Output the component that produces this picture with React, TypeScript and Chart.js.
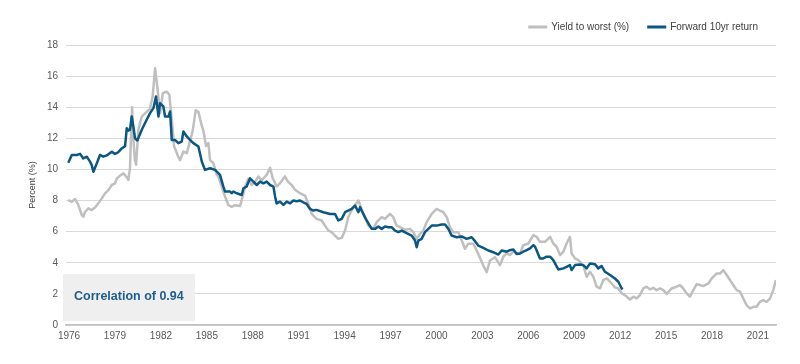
import React, { useEffect, useRef } from 'react';
import { Chart, registerables } from 'chart.js';

Chart.register(...registerables);

const FONT = '"Liberation Sans", Arial, sans-serif';

const seriesLabels = ['Yield to worst (%)', 'Forward 10yr return'];
const correlationText = 'Correlation of 0.94';
const yAxisTitle = 'Percent (%)';
const xTickYears = [1976, 1979, 1982, 1985, 1988, 1991, 1994, 1997, 2000, 2003, 2006, 2009, 2012, 2015, 2018, 2021];

const yieldYears = [
  1975.95, 1976.18, 1976.39, 1976.61, 1976.83, 1976.93, 1977.05, 1977.26, 1977.48, 1977.7, 1977.91,
  1978.14, 1978.35, 1978.57, 1978.79, 1979.0, 1979.12, 1979.33, 1979.55, 1979.77, 1979.87, 1979.98,
  1980.05, 1980.12, 1980.2, 1980.3, 1980.38, 1980.53, 1980.75, 1981.07, 1981.29, 1981.46, 1981.62,
  1981.79, 1981.94, 1982.12, 1982.38, 1982.55, 1982.71, 1982.86, 1983.14, 1983.25, 1983.47, 1983.69,
  1983.9, 1984.08, 1984.27, 1984.45, 1984.62, 1984.77, 1984.95, 1985.1, 1985.21, 1985.43, 1985.65,
  1985.75, 1985.97, 1986.19, 1986.41, 1986.62, 1986.84, 1987.17, 1987.34, 1987.5, 1987.71, 1987.93,
  1988.15, 1988.37, 1988.58, 1988.91, 1989.13, 1989.3, 1989.56, 1989.77, 1990.1, 1990.31, 1990.54,
  1990.76, 1991.04, 1991.41, 1991.63, 1991.85, 1992.17, 1992.5, 1992.72, 1992.94, 1993.15, 1993.37,
  1993.59, 1993.81, 1994.03, 1994.24, 1994.46, 1994.68, 1994.9, 1995.11, 1995.33, 1995.55, 1995.88,
  1996.09, 1996.42, 1996.64, 1996.96, 1997.18, 1997.4, 1997.62, 1997.94, 1998.27, 1998.49, 1998.71,
  1998.92, 1999.14, 1999.36, 1999.69, 2000.01, 2000.23, 2000.45, 2000.67, 2000.88, 2001.1, 2001.43,
  2001.65, 2001.86, 2002.08, 2002.41, 2002.73, 2003.06, 2003.28, 2003.5, 2003.82, 2004.15, 2004.37,
  2004.59, 2004.8, 2005.02, 2005.24, 2005.46, 2005.67, 2006.0, 2006.33, 2006.54, 2006.76, 2007.09,
  2007.42, 2007.63, 2007.85, 2008.07, 2008.29, 2008.5, 2008.72, 2008.83, 2009.05, 2009.27, 2009.59,
  2009.81, 2010.03, 2010.25, 2010.46, 2010.68, 2010.9, 2011.12, 2011.44, 2011.66, 2011.88, 2012.1,
  2012.31, 2012.64, 2012.86, 2013.08, 2013.29, 2013.51, 2013.73, 2013.95, 2014.17, 2014.38, 2014.6,
  2014.82, 2015.04, 2015.36, 2015.69, 2015.91, 2016.12, 2016.34, 2016.56, 2016.78, 2017.0, 2017.21,
  2017.43, 2017.76, 2017.98, 2018.3, 2018.52, 2018.74, 2018.96, 2019.17, 2019.39, 2019.61, 2019.83,
  2020.04, 2020.26, 2020.48, 2020.7, 2020.91, 2021.13, 2021.35, 2021.57, 2021.79, 2022.0, 2022.18,
];
const yieldValues = [
  8.03, 7.92, 8.1, 7.71, 7.07, 6.96, 7.28, 7.5, 7.39, 7.55, 7.82,
  8.14, 8.46, 8.67, 9.0, 9.1, 9.42, 9.6, 9.75, 9.5, 9.32, 10.07,
  12.3, 14.0, 12.0, 10.6, 10.3, 12.6, 13.4, 13.7, 13.9, 14.7, 16.5,
  15.1, 13.6, 14.9, 15.0, 14.8, 13.2, 11.5, 10.8, 10.6, 11.15, 11.05,
  11.8, 12.5, 13.8, 13.7, 13.0, 12.5, 11.5, 11.7, 10.6, 10.4, 9.65,
  9.55, 8.9, 8.25, 7.7, 7.6, 7.7, 7.65, 8.25, 8.9, 9.4, 9.0,
  9.2, 9.55, 9.3, 9.65, 10.1, 9.45, 8.9, 9.1, 9.55, 9.2, 9.0,
  8.7, 8.5, 8.32, 7.79, 7.14, 6.82, 6.72, 6.39, 6.07, 5.97, 5.75,
  5.54, 5.6, 6.07, 6.93, 7.36, 7.68, 8.0, 7.46, 6.93, 6.39, 6.18,
  6.61, 6.93, 6.82, 7.14, 6.93, 6.39, 6.29, 6.12, 6.18, 5.97, 5.54,
  5.86, 6.07, 6.61, 7.14, 7.46, 7.36, 7.25, 6.93, 6.29, 5.97, 5.97,
  5.43, 4.9, 5.22, 5.22, 4.57, 3.82, 3.4, 4.15, 4.36, 3.85, 4.39,
  4.6, 4.49, 4.71, 4.6, 4.6, 5.13, 5.24, 5.78, 5.67, 5.35, 5.35,
  5.67, 5.24, 5.03, 4.49, 4.71, 5.24, 5.67, 4.6, 4.28, 4.17, 3.85,
  3.1, 3.42, 3.1, 2.46, 2.35, 2.89, 2.99, 2.67, 2.42, 2.35, 2.03,
  1.92, 1.64, 1.82, 1.71, 1.92, 2.35, 2.46, 2.29, 2.39, 2.24, 2.35,
  2.24, 1.99, 2.35, 2.46, 2.57, 2.35, 2.03, 1.82, 2.24, 2.63, 2.57,
  2.5, 2.67, 2.99, 3.31, 3.31, 3.53, 3.21, 2.89, 2.57, 2.24, 2.14,
  1.71, 1.28, 1.07, 1.17, 1.17, 1.49, 1.6, 1.49, 1.71, 2.24, 2.89,
];

const fwdYears = [
  1975.95, 1976.18, 1976.5, 1976.72, 1976.93, 1977.16, 1977.37, 1977.48, 1977.59, 1977.81, 1978.02,
  1978.24, 1978.46, 1978.79, 1979.0, 1979.2, 1979.44, 1979.66, 1979.77, 1979.87, 1979.98, 1980.09,
  1980.2, 1980.31, 1980.46, 1980.75, 1981.07, 1981.29, 1981.51, 1981.68, 1981.84, 1981.94, 1982.16,
  1982.27, 1982.49, 1982.6, 1982.71, 1982.92, 1983.14, 1983.36, 1983.47, 1983.69, 1983.9, 1984.12,
  1984.45, 1984.67, 1984.88, 1985.21, 1985.54, 1985.86, 1986.08, 1986.19, 1986.52, 1986.62, 1986.73,
  1986.95, 1987.28, 1987.39, 1987.6, 1987.82, 1988.04, 1988.26, 1988.48, 1988.69, 1988.91, 1989.13,
  1989.35, 1989.46, 1989.56, 1989.78, 1990.0, 1990.22, 1990.44, 1990.65, 1990.87, 1991.09, 1991.3,
  1991.52, 1991.74, 1991.96, 1992.17, 1992.61, 1993.05, 1993.37, 1993.59, 1993.81, 1994.03, 1994.24,
  1994.46, 1994.68, 1994.9, 1995.01, 1995.22, 1995.44, 1995.77, 1995.99, 1996.2, 1996.42, 1996.64,
  1996.86, 1997.07, 1997.29, 1997.51, 1997.73, 1998.05, 1998.38, 1998.6, 1998.71, 1998.82, 1999.03,
  1999.25, 1999.47, 1999.69, 2000.01, 2000.34, 2000.56, 2000.78, 2000.99, 2001.32, 2001.65, 2001.97,
  2002.3, 2002.52, 2002.73, 2003.06, 2003.39, 2003.71, 2004.04, 2004.26, 2004.59, 2004.8, 2005.02,
  2005.24, 2005.46, 2005.67, 2005.89, 2006.11, 2006.33, 2006.44, 2006.54, 2006.76, 2006.98, 2007.2,
  2007.42, 2007.63, 2007.96, 2008.29, 2008.5, 2008.72, 2008.83, 2009.05, 2009.38, 2009.59, 2009.81,
  2010.03, 2010.36, 2010.57, 2010.79, 2011.01, 2011.34, 2011.66, 2011.88, 2012.1, 2012.16,
];
const fwdValues = [
  10.43, 10.93, 10.93, 11.0, 10.71, 10.82, 10.5, 10.28, 9.85, 10.39, 10.93,
  10.82, 10.9, 11.14, 11.0, 11.1, 11.35, 11.5, 12.65, 12.5, 12.55, 13.4,
  12.76, 12.0, 11.86, 12.55, 13.19, 13.62, 13.94, 14.69, 13.4, 14.26, 14.05,
  13.4, 13.4, 13.73, 11.9, 11.9, 11.69, 11.79, 12.44, 12.12, 11.9, 11.69,
  11.47, 10.51, 9.97, 10.08, 9.97, 9.65, 8.9, 8.58, 8.58, 8.47, 8.58,
  8.47, 8.36, 8.79, 8.9, 9.43, 9.22, 9.0, 9.22, 9.11, 9.22, 9.0,
  8.9, 8.25, 7.82, 7.93, 7.72, 7.93, 7.82, 8.0, 7.96, 8.0, 7.89,
  7.79, 7.46, 7.36, 7.4, 7.25, 7.14, 7.14, 6.72, 6.82, 7.25, 7.36,
  7.46, 7.68, 7.25, 7.57, 7.14, 6.72, 6.18, 6.18, 6.33, 6.18, 6.33,
  6.29, 6.29, 6.07, 5.97, 6.07, 5.9, 5.75, 5.43, 5.0, 5.43, 5.54,
  5.97, 6.18, 6.39, 6.39, 6.46, 6.46, 6.18, 5.75, 5.64, 5.69, 5.54,
  5.64, 5.39, 5.11, 4.96, 4.79, 4.68, 4.53, 4.79, 4.71, 4.81, 4.86,
  4.56, 4.6, 4.71, 4.81, 4.92, 5.13, 5.03, 4.81, 4.28, 4.28, 4.39,
  4.39, 4.17, 3.57, 3.64, 3.74, 3.85, 3.53, 3.85, 3.89, 3.85, 3.64,
  3.96, 3.91, 3.64, 3.79, 3.42, 3.21, 2.99, 2.78, 2.35, 2.29,
];

const GRAY = '#bfbfbf';
const BLUE = '#0a5783';

const legendPlugin = {
  id: 'customLegend',
  afterDraw(chart: any) {
    const ctx = chart.ctx;
    ctx.save();
    ctx.font = `10px ${FONT}`;
    const items = chart.data.datasets.map((ds: any) => ({ label: ds.label, color: ds.borderColor }));
    const sample = 19;
    const gapText = 4;
    const gapItem = 18;
    const widths = items.map((it: any) => sample + gapText + ctx.measureText(it.label).width);
    const total = widths.reduce((a: number, b: number) => a + b, 0) + gapItem * (items.length - 1);
    let x = chart.chartArea.right - 18 - total;
    const y = 27;
    items.forEach((it: any, i: number) => {
      ctx.fillStyle = it.color;
      ctx.fillRect(x, y - 1.5, sample, 3);
      ctx.fillStyle = '#404040';
      ctx.textBaseline = 'middle';
      ctx.textAlign = 'left';
      ctx.fillText(it.label, x + sample + gapText, y);
      x += widths[i] + gapItem;
    });
    ctx.restore();
  },
};

const correlationPlugin = {
  id: 'correlationBox',
  beforeDatasetsDraw(chart: any) {
    const ctx = chart.ctx;
    const { left, bottom } = chart.chartArea;
    ctx.save();
    ctx.fillStyle = '#efefef';
    ctx.fillRect(left - 3, bottom - 51, 132, 47);
    ctx.font = `bold 12.5px ${FONT}`;
    ctx.fillStyle = '#1f5d8c';
    ctx.textBaseline = 'middle';
    ctx.textAlign = 'left';
    ctx.fillText(correlationText, left + 8, bottom - 28);
    ctx.restore();
  },
};

export default function App() {
  const canvasRef = useRef<HTMLCanvasElement | null>(null);

  useEffect(() => {
    if (!canvasRef.current) return;
    const chart = new Chart(canvasRef.current, {
      type: 'line',
      data: {
        datasets: [
          {
            label: seriesLabels[0],
            data: yieldYears.map((x, i) => ({ x, y: yieldValues[i] })),
            borderColor: GRAY,
            backgroundColor: GRAY,
            borderWidth: 2.5,
            pointRadius: 0,
            tension: 0,
            borderJoinStyle: 'round',
            order: 2,
          },
          {
            label: seriesLabels[1],
            data: fwdYears.map((x, i) => ({ x, y: fwdValues[i] })),
            borderColor: BLUE,
            backgroundColor: BLUE,
            borderWidth: 2.5,
            pointRadius: 0,
            tension: 0,
            borderJoinStyle: 'round',
            order: 1,
          },
        ],
      },
      options: {
        animation: false,
        responsive: false,
        maintainAspectRatio: false,
        layout: { padding: { left: 0, right: 24, top: 45, bottom: 0 } },
        plugins: {
          legend: { display: false },
          tooltip: { enabled: false },
        },
        scales: {
          x: {
            type: 'linear',
            min: 1975.8,
            max: 2022.18,
            afterBuildTicks: (s: any) => {
              s.ticks = xTickYears.map((v) => ({ value: v }));
            },
            afterFit: (s: any) => {
              s.height = 39;
            },
            ticks: {
              color: '#595959',
              font: { size: 10, family: FONT },
              padding: 5,
              maxRotation: 0,
              autoSkip: false,
              callback: (v: any) => String(v),
            },
            grid: { display: false, drawTicks: false },
            border: { display: true, color: GRAY, width: 1.5 },
          },
          y: {
            min: 0,
            max: 18,
            afterFit: (s: any) => {
              s.width = 66;
            },
            ticks: {
              stepSize: 2,
              color: '#595959',
              font: { size: 10, family: FONT },
              padding: 8,
            },
            grid: { color: '#d9d9d9', drawTicks: false, lineWidth: 1 },
            border: { display: false },
            title: {
              display: true,
              text: yAxisTitle,
              color: '#404040',
              font: { size: 9, family: FONT },
              padding: { top: 27, bottom: 0 },
            },
          },
        },
      },
      plugins: [correlationPlugin, legendPlugin],
    } as any);
    return () => chart.destroy();
  }, []);

  return (
    <div style={{ position: 'fixed', left: 0, top: 0, width: 800, height: 364, background: '#fff' }}>
      <canvas ref={canvasRef} width={800} height={364} style={{ width: 800, height: 364 }} />
    </div>
  );
}
